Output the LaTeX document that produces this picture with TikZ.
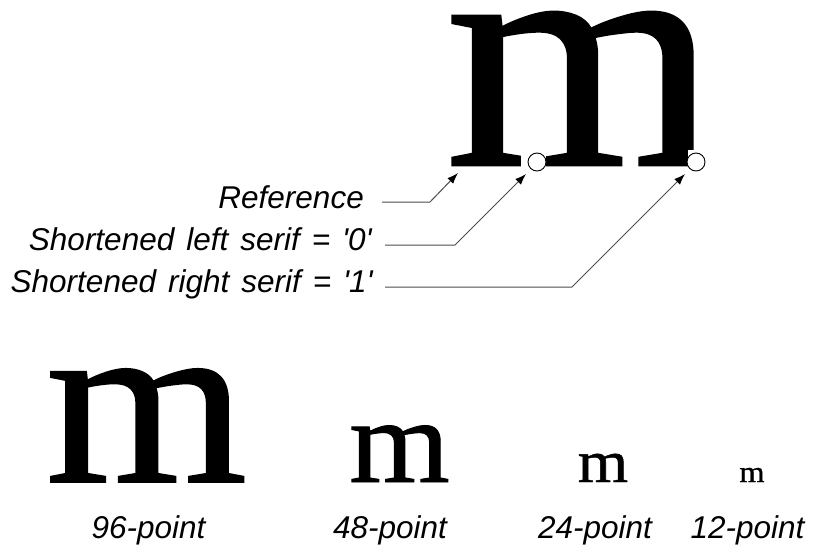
\documentclass[tikz,border=0pt]{standalone}
\usepackage{fontspec}
\setmainfont{Liberation Serif}
\newfontfamily\glyphfont{Liberation Serif}[FakeBold=0.8]
\newfontfamily\labelfont{Liberation Sans}
\usetikzlibrary{arrows.meta}

\newcommand\wideM{\scalebox{1.08}[1]{m}}
\newcommand\labelsize{\fontsize{31.5}{31.5}\selectfont\spaceskip=12pt\relax}

\tikzset{
  glyph/.style={inner sep=0pt, anchor=base, text height=0.45em, text depth=0pt},
  lbl/.style={inner sep=0pt, font=\labelfont\itshape\labelsize},
  leader/.style={black!70, line width=1pt, -{Latex[length=11pt,width=8pt,black]}},
  cut/.style={circle, draw, fill=white, line width=0.9pt, minimum size=18pt, inner sep=0pt},
}

\begin{document}
\begin{tikzpicture}[x=1pt,y=-1pt]
  \useasboundingbox (0,0) rectangle (817,546);

  % big letter, two serifs cut back
  \node[glyph, font=\glyphfont\fontsize{325}{325}\selectfont] (big) at (582,165) {\wideM};
  \fill[white] (521,150) rectangle (546,170);
  \fill[white] (688,150) rectangle (720,170);
  \node[cut] (cutL) at (537,162) {};
  \node[cut] (cutR) at (696,162) {};

  \node[lbl, anchor=base east] (ref) at (364,208) {Reference};
  \node[lbl, anchor=base east] (left0) at (372,250) {Shortened left serif = \textquotesingle 0\textquotesingle};
  \node[lbl, anchor=base east] (right1) at (373,292) {Shortened right serif = \textquotesingle 1\textquotesingle};

  \coordinate (refTip) at (458,173);
  \coordinate (leftTip) at (526,174);
  \coordinate (rightTip) at (685,174);
  \coordinate (refBend) at (430,202);
  \coordinate (leftBend) at (455,245);
  \coordinate (rightBend) at (572,287);

  \draw[leader] ([shift={(18,-6)}]ref.base east) -- (refBend) -- (refTip);
  \draw[leader] ([shift={(13,-5)}]left0.base east) -- (leftBend) -- (leftTip);
  \draw[leader] ([shift={(12,-5)}]right1.base east) -- (rightBend) -- (rightTip);

  % the same letter at four sizes
  \foreach \pt/\x/\lx in {96/146.5/148.5, 48/399.5/390, 24/603/595, 12/752/747.5}{
    \pgfmathsetmacro\sz{\pt*2.5}
    \node[glyph, font=\glyphfont\fontsize{\sz}{\sz}\selectfont] (m\pt) at (\x,482) {\wideM};
    \node[lbl, anchor=base] (lab\pt) at (\lx,538) {\pt-point};
  }
\end{tikzpicture}
\end{document}
